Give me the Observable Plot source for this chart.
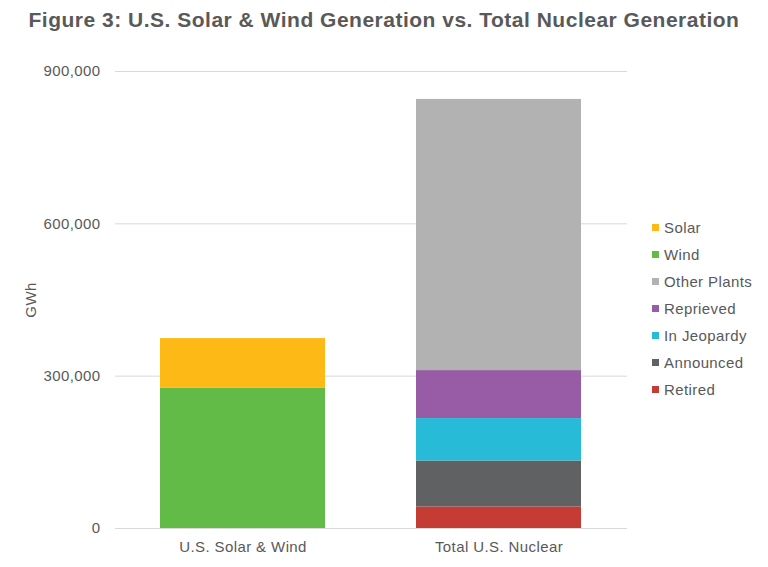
<!DOCTYPE html>
<html>
<head>
<meta charset="utf-8">
<script src="https://cdn.jsdelivr.net/npm/d3@7"></script>
<script src="https://cdn.jsdelivr.net/npm/@observablehq/plot@0.6"></script>
<style>
  html, body { margin: 0; padding: 0; background: #fff; }
  #wrap { position: relative; width: 768px; height: 567px; font-family: "Liberation Sans", Arial, sans-serif; color: #595959; }
  #title { height: 40px; line-height: 40px; text-align: center; font-weight: bold; font-size: 21px; letter-spacing: 0.5px; white-space: nowrap; }
  #legend { position: absolute; left: 652px; top: 213.5px; font-size: 15px; letter-spacing: 0.4px; }
  .row { height: 27px; display: flex; align-items: center; white-space: nowrap; }
  .sw { width: 7px; height: 7px; margin-right: 5px; }
</style>
</head>
<body>
<div id="wrap">
  <div id="title">Figure 3: U.S. Solar &amp; Wind Generation vs. Total Nuclear Generation</div>
  <div id="chart"></div>
  <div id="legend"></div>
</div>
<script>
// Categories (bars)
const categories = ["U.S. Solar & Wind", "Total U.S. Nuclear"];

// Series for each bar (bottom to top) and values in GWh
const solarWindSeries = ["Wind", "Solar"];
const solarWindValues = [276000, 98000];

const nuclearSeries = ["Retired", "Announced", "In Jeopardy", "Reprieved", "Other Plants"];
const nuclearValues = [42500, 90500, 83500, 94500, 534000];

// Legend order and colors
const legendSeries = ["Solar", "Wind", "Other Plants", "Reprieved", "In Jeopardy", "Announced", "Retired"];
const legendColors = ["#FDBA16", "#63BB47", "#B2B2B2", "#985BA5", "#28BBD7", "#606163", "#C43C33"];

// Stack order (bottom to top)
const stackOrder = ["Retired", "Announced", "In Jeopardy", "Reprieved", "Other Plants", "Wind", "Solar"];

// Y axis ticks
const yTicks = [0, 300000, 600000, 900000];

const data = [
  ...solarWindSeries.map((s, i) => ({group: categories[0], series: s, value: solarWindValues[i]})),
  ...nuclearSeries.map((s, i) => ({group: categories[1], series: s, value: nuclearValues[i]}))
];

const chart = Plot.plot({
  width: 768,
  height: 527,
  marginTop: 31,
  marginBottom: 39,
  marginLeft: 115,
  marginRight: 141,
  style: {fontFamily: "'Liberation Sans', Arial, sans-serif", fontSize: "15px", letterSpacing: "0.4px", color: "#595959", background: "#fff"},
  x: {domain: categories, paddingInner: 0.355, paddingOuter: 0.176},
  y: {domain: [0, 900000]},
  color: {domain: legendSeries, range: legendColors},
  marks: [
    Plot.gridY(yTicks, {stroke: "#d9d9d9", strokeOpacity: 1}),
    Plot.barY(data, Plot.stackY({order: stackOrder}, {x: "group", y: "value", fill: "series"})),
    Plot.axisY(yTicks, {tickSize: 0, tickPadding: 15, tickFormat: d3.format(","), label: "GWh", labelAnchor: "center", labelArrow: "none", labelOffset: 90, fill: "#595959"}),
    Plot.axisX({tickSize: 0, tickPadding: 13, label: null, fill: "#595959"})
  ]
});
document.getElementById("chart").appendChild(chart);

const legend = document.getElementById("legend");
legendSeries.forEach((s, i) => {
  const row = document.createElement("div");
  row.className = "row";
  const sw = document.createElement("span");
  sw.className = "sw";
  sw.style.background = legendColors[i];
  const t = document.createElement("span");
  t.textContent = s;
  row.appendChild(sw);
  row.appendChild(t);
  legend.appendChild(row);
});
</script>
</body>
</html>
